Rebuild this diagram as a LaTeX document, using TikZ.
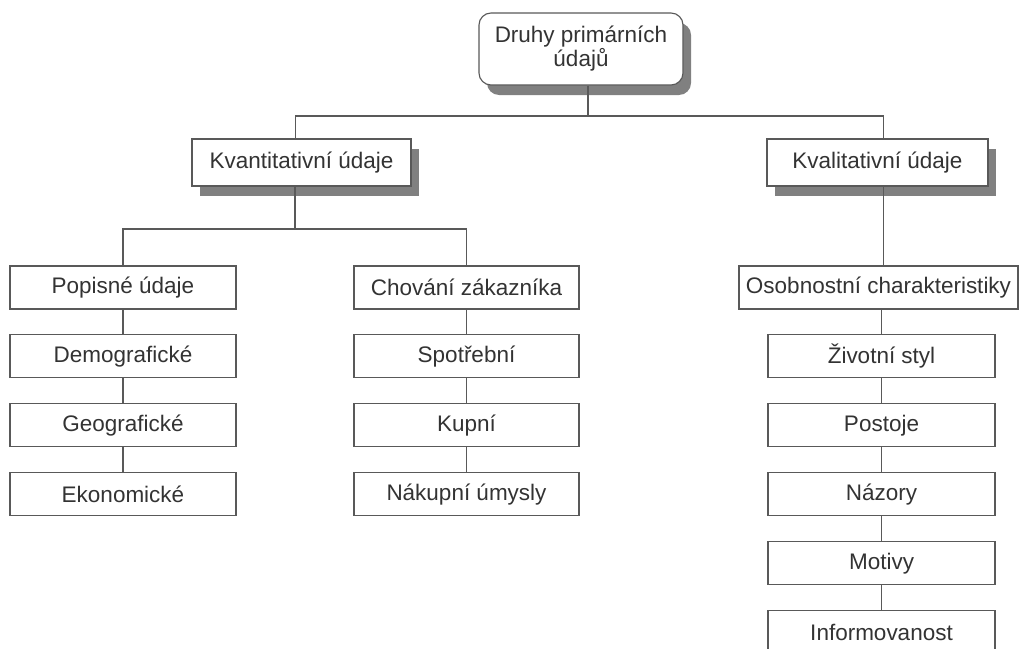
\documentclass[tikz,border=0pt]{standalone}
\usepackage{fontspec}
\setmainfont{Liberation Sans}
\usetikzlibrary{positioning,shadows}
\tikzset{node distance=0.62cm,
  box/.style={draw=black!65, fill=white, line width=0.8pt, inner sep=0pt,
    minimum height=1.075cm, text=black!80, font=\fontsize{16}{17}\selectfont},
  sbox/.style={box, minimum height=1.175cm,
    drop shadow={shadow xshift=0.2cm, shadow yshift=-0.25cm, fill=black!50, opacity=1}},
  link/.style={draw=black!65, line width=0.8pt}}

\begin{document}
\begin{tikzpicture}

  \clip[use as bounding box] (0,0) rectangle (25.55,-16.225);

  % hlavni uzel
  \node (D) [sbox, rounded corners=0.3cm, minimum width=5.1cm, minimum height=1.8cm, align=center]
        at (14.525,-1.225) {Druhy primárních\\údajů};
  \node (Kn) [sbox, minimum width=5.475cm] at (7.5375,-4.0625) {Kvantitativní údaje};
  \node (Kl) [sbox, minimum width=5.525cm] at (21.9375,-4.0625) {Kvalitativní údaje};

  % kvantitativni
  \node (P)  [box, minimum width=5.65cm] at (3.075,-7.1875) {Popisné údaje};
  \node (De) [box, minimum width=5.65cm, below=of P] {Demografické};
  \node (Ge) [box, minimum width=5.65cm, below=of De] {Geografické};
  \node (Ek) [box, minimum width=5.65cm, below=of Ge] {Ekonomické};

  \node (Ch) [box, minimum width=5.625cm] at (11.6625,-7.1875) {Chování zákazníka};
  \node (Sp) [box, minimum width=5.625cm, below=of Ch] {Spotřební};
  \node (Ku) [box, minimum width=5.625cm, below=of Sp] {Kupní};
  \node (Na) [box, minimum width=5.625cm, below=of Ku] {Nákupní úmysly};

  % kvalitativni
  \node (O)  [box, minimum width=6.975cm] at (21.9625,-7.1875) {Osobnostní charakteristiky};
  \node (Z)  [box, minimum width=5.675cm, below=of O, xshift=0.075cm] {Životní styl};
  \node (Po) [box, minimum width=5.675cm, below=of Z] {Postoje};
  \node (Nz) [box, minimum width=5.675cm, below=of Po] {Názory};
  \node (Mo) [box, minimum width=5.675cm, below=of Nz] {Motivy};
  \node (In) [box, minimum width=5.675cm, below=of Mo] {Informovanost};

  \coordinate (j1) at (14.7,-2.9);
  \coordinate (j2) at (7.375,-5.725);

  \draw[link] (j1 |- D.south) -- (j1);
  \draw[link] ([xshift=-0.16cm]Kn.north) |- (j1) -| ([xshift=0.14cm]Kl.north);
  \draw[link] (j2 |- Kn.south) -- (j2);
  \draw[link] (P.north) |- (j2) -| (Ch.north);
  \draw[link] ([xshift=0.14cm]Kl.south) -- ([xshift=0.14cm]Kl.south |- O.north);
  \draw[link] (Z.north) -- (Z.north |- O.south);

  \foreach \a/\b in {P/De, De/Ge, Ge/Ek, Ch/Sp, Sp/Ku, Ku/Na, Z/Po, Po/Nz, Nz/Mo, Mo/In}
    \draw[link] (\b.north) -- (\b.north |- \a.south);

\end{tikzpicture}
\end{document}
